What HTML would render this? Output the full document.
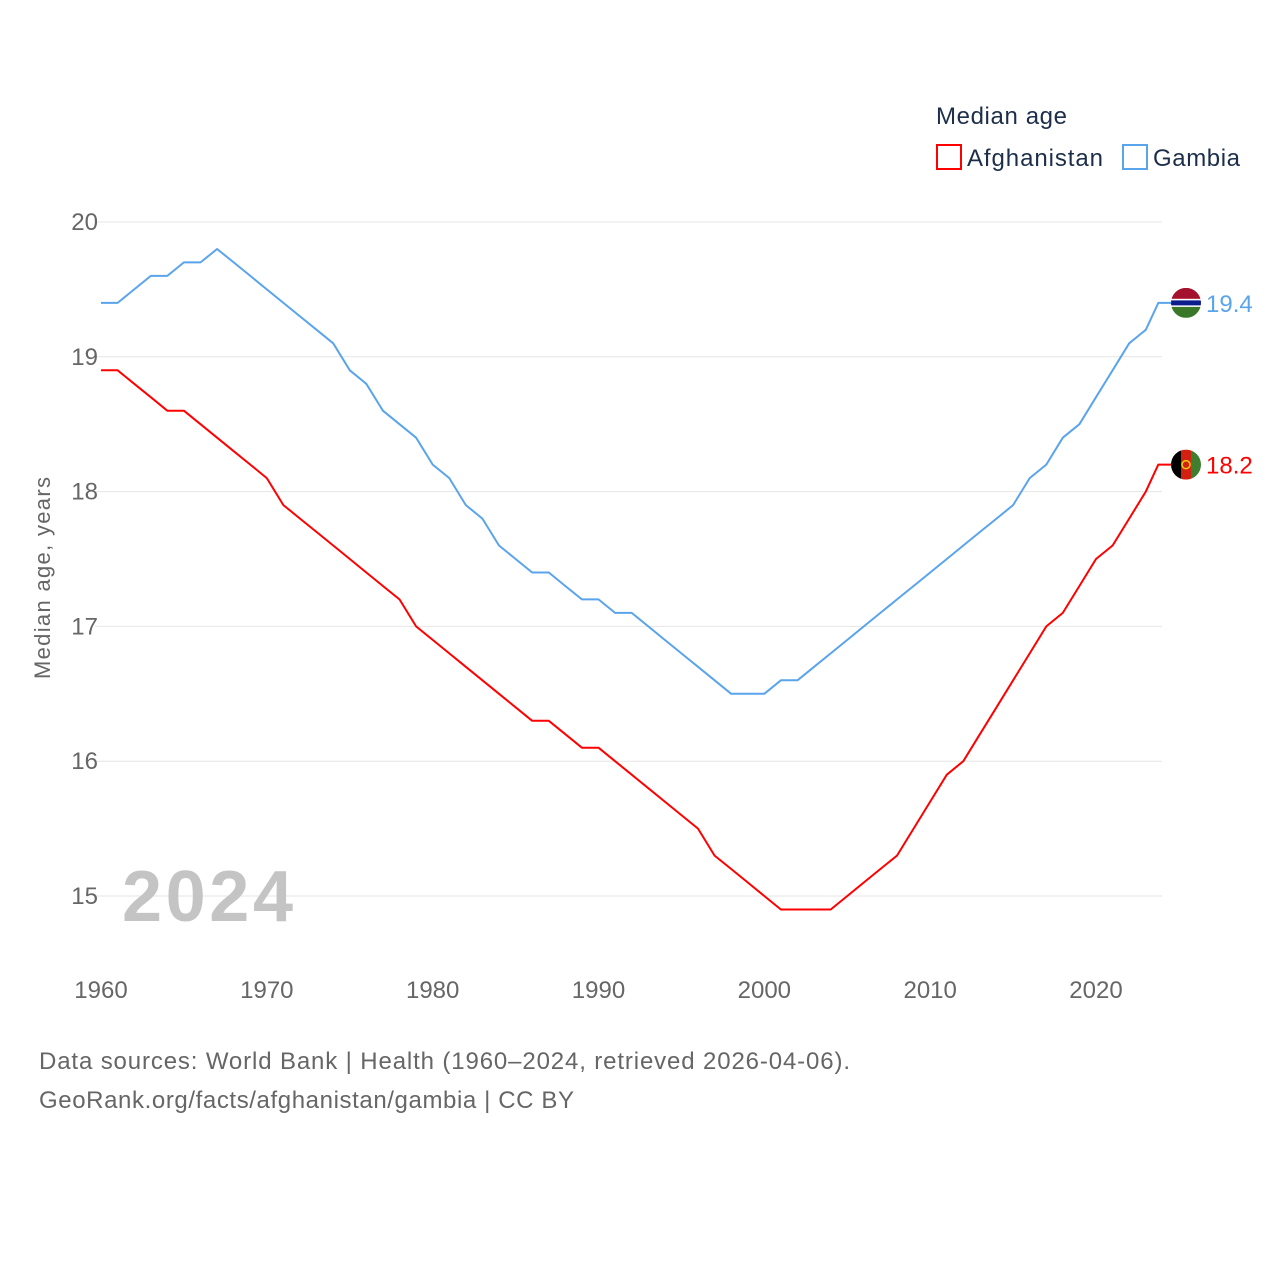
<!DOCTYPE html>
<html><head><meta charset="utf-8"><style>
html,body{margin:0;padding:0;background:#fff;}
svg{display:block;font-family:"Liberation Sans",sans-serif;}
</style></head><body>
<svg id="chart" width="1280" height="1280">
<text x="936" y="124" font-size="24" fill="#1c2e4a" textLength="131">Median age</text>
<g><rect x="937" y="145" width="24" height="24" fill="none" stroke="#ff0000" stroke-width="2"/><text x="967" y="166" font-size="24" fill="#1c2e4a" textLength="136">Afghanistan</text></g>
<g><rect x="1123" y="145" width="24" height="24" fill="none" stroke="#5aa4ec" stroke-width="2"/><text x="1153" y="166" font-size="24" fill="#1c2e4a" textLength="87">Gambia</text></g>
<g id="grid"></g>
<g id="yticks"></g>
<g id="xticks"></g>
<text transform="translate(50,578) rotate(-90)" text-anchor="middle" font-size="22" fill="#666" textLength="202">Median age, years</text>
<text x="122" y="921" font-size="72" font-weight="bold" fill="#c4c4c4" textLength="171">2024</text>
<g id="series"></g>
<text x="39" y="1069" font-size="24" fill="#666" textLength="811">Data sources: World Bank | Health (1960–2024, retrieved 2026-04-06).</text>
<text x="39" y="1108" font-size="24" fill="#666" textLength="535">GeoRank.org/facts/afghanistan/gambia | CC BY</text>
</svg>
<script>
const years = [];for(let y=1960;y<=2024;y++)years.push(y);
const afghanistan = [18.9,18.9,18.8,18.7,18.6,18.6,18.5,18.4,18.3,18.2,18.1,17.9,17.8,17.7,17.6,17.5,17.4,17.3,17.2,17.0,16.9,16.8,16.7,16.6,16.5,16.4,16.3,16.3,16.2,16.1,16.1,16.0,15.9,15.8,15.7,15.6,15.5,15.3,15.2,15.1,15.0,14.9,14.9,14.9,14.9,15.0,15.1,15.2,15.3,15.5,15.7,15.9,16.0,16.2,16.4,16.6,16.8,17.0,17.1,17.3,17.5,17.6,17.8,18.0,18.2];
const gambia = [19.4,19.4,19.5,19.6,19.6,19.7,19.7,19.8,19.7,19.6,19.5,19.4,19.3,19.2,19.1,18.9,18.8,18.6,18.5,18.4,18.2,18.1,17.9,17.8,17.6,17.5,17.4,17.4,17.3,17.2,17.2,17.1,17.1,17.0,16.9,16.8,16.7,16.6,16.5,16.5,16.5,16.6,16.6,16.7,16.8,16.9,17.0,17.1,17.2,17.3,17.4,17.5,17.6,17.7,17.8,17.9,18.1,18.2,18.4,18.5,18.7,18.9,19.1,19.2,19.4];
const yTicks = [15,16,17,18,19,20];
const xTicks = [1960,1970,1980,1990,2000,2010,2020];
const NS="http://www.w3.org/2000/svg";
const xs=y=>101+(y-1960)*(1096-101)/60;
const ys=v=>896-(v-15)*(896-222)/5;
function mk(t,a,p){const e=document.createElementNS(NS,t);for(const k in a)e.setAttribute(k,a[k]);p.appendChild(e);return e;}
const grid=document.getElementById('grid'),yt=document.getElementById('yticks'),xt=document.getElementById('xticks'),ser=document.getElementById('series');
yTicks.forEach(v=>{
 const l=mk('line',{x1:95,x2:1162,y1:ys(v),y2:ys(v),stroke:'#e6e6e6','stroke-width':1},grid);
 
 
 const t=mk('text',{x:98,y:ys(v)+8,'text-anchor':'end','font-size':24,fill:'#666'},yt);t.textContent=v;
 
 
});
xTicks.forEach(v=>{
 const t=mk('text',{x:xs(v),y:998,'text-anchor':'middle','font-size':24,fill:'#666'},xt);t.textContent=v;
 
 
});
function line(vals,color,name){
 let d=vals.map((v,i)=>(i?'L':'M')+(xs(years[i])-(i===vals.length-1?4:0)).toFixed(1)+','+ys(v).toFixed(1)).join('');
 const last=vals[vals.length-1],ly=ys(last);
 d+='L1172,'+ly.toFixed(1);
 const p=mk('path',{d:d,fill:'none',stroke:color,'stroke-width':2,'stroke-linejoin':'round'},ser);
 
 
 const t=mk('text',{x:1206,y:ly+9,'font-size':24,fill:color},ser);t.textContent=last.toFixed(1);
 
 
 return ly;
}
const ay=line(afghanistan,'#ff0000','afghanistan');
const gy=line(gambia,'#5aa4ec','gambia');
const fa=mk('g',{},ser);


const ca=mk('clipPath',{id:'ca'},fa);mk('circle',{cx:1186,cy:ay,r:15},ca);
const ga=mk('g',{'clip-path':'url(#ca)'},fa);
mk('rect',{x:1171,y:ay-15,width:10,height:30,fill:'#000'},ga);
mk('rect',{x:1181,y:ay-15,width:10,height:30,fill:'#d32011'},ga);
mk('rect',{x:1191,y:ay-15,width:10,height:30,fill:'#3f7e2f'},ga);
mk('circle',{cx:1186,cy:ay,r:4,fill:'none',stroke:'#f5d000','stroke-width':1.5},ga);
const fg=mk('g',{},ser);


const cp=mk('clipPath',{id:'cg'},fg);mk('circle',{cx:1186,cy:gy,r:15},cp);
const gg=mk('g',{'clip-path':'url(#cg)'},fg);
mk('rect',{x:1171,y:gy-15,width:30,height:11,fill:'#a5122d'},gg);
mk('rect',{x:1171,y:gy-4,width:30,height:8,fill:'#fff'},gg);
mk('rect',{x:1171,y:gy-2.5,width:30,height:5,fill:'#0c1c8c'},gg);
mk('rect',{x:1171,y:gy+4,width:30,height:11,fill:'#3a7728'},gg);
</script>
</body></html>
